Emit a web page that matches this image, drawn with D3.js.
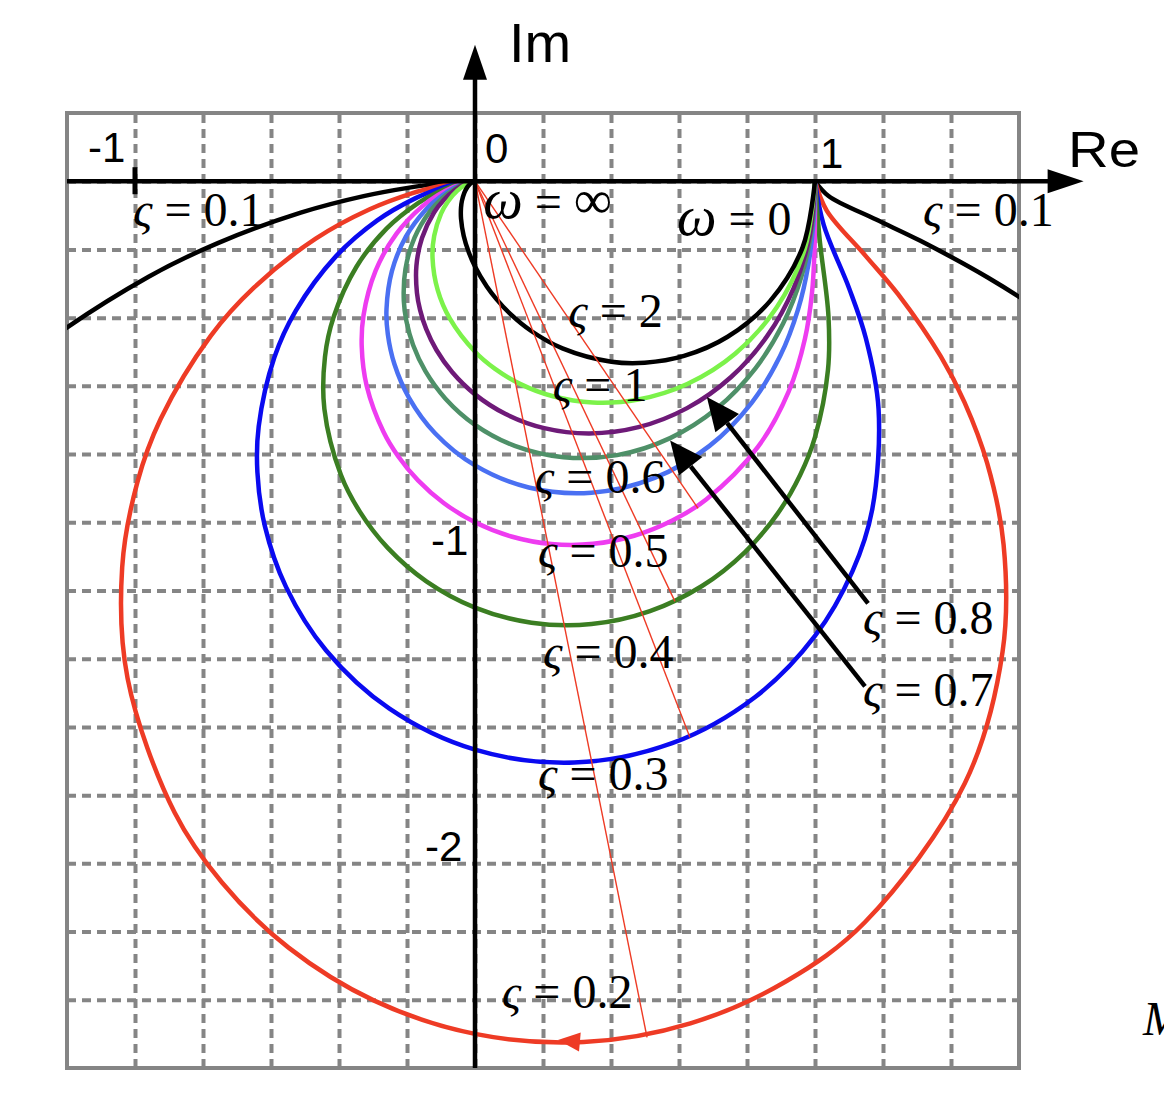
<!DOCTYPE html>
<html><head><meta charset="utf-8">
<script src="https://cdn.jsdelivr.net/npm/d3@7"></script>
<style>body{margin:0;background:#fff} svg{display:block}</style>
</head><body>
<svg id="chart" width="1164" height="1110"></svg>
<script>
// ---------- data: Nyquist curves [Re, Im] for each damping ratio ----------
const zeta01 = [[1,0],[1.0399,-0.0433],[1.1798,-0.1124],[1.3100,-0.1747],[1.5094,-0.2830],[1.6481,-0.3710],[1.8234,-0.5005],[2.3196,-1.0309],[2.774,-2.628],[2.138,-4.167],[0,-5],[-1.877,-3.846],[-2.270,-2.378],[-2.055,-1.466],[-1.7516,-0.9554],[-1.4845,-0.6598],[-1.2691,-0.4782],[-0.96,-0.28],[-0.7564,-0.1815],[-0.5125,-0.0922],[-0.3275,-0.0437],[-0.1888,-0.0180],[-0.1243,-0.0093],[-0.0665,-0.0035],[-0.0285,-0.0010],[0,0]];
const zeta02 = [[1,0],[1.0345,-0.0862],[1.1488,-0.2188],[1.2448,-0.3320],[1.3699,-0.5137],[1.4398,-0.6482],[1.5066,-0.8272],[1.5547,-1.0661],[1.5517,-1.3793],[1.4407,-1.7652],[1.1467,-2.1726],[0.9153,-2.3456],[0.6335,-2.4690],[0.3195,-2.5237],[0,-2.5],[-0.2966,-2.4024],[-0.5484,-2.2471],[-0.7442,-2.0563],[-0.8835,-1.8511],[-1.0218,-1.4575],[-1.0377,-1.1321],[-0.9931,-0.8828],[-0.9243,-0.6966],[-0.7772,-0.4534],[-0.6502,-0.3121],[-0.4685,-0.1685],[-0.3112,-0.0830],[-0.1838,-0.0350],[-0.1222,-0.0183],[-0.0659,-0.0070],[-0.0284,-0.0020],[0,0]];
const zeta03 = [[1,0],[1.0256,-0.1282],[1.1006,-0.3145],[1.1494,-0.4598],[1.1869,-0.6677],[1.1684,-0.9622],[1.1107,-1.1424],[1.0,-1.3333],[0.8232,-1.5129],[0.5798,-1.6478],[0.2916,-1.7045],[0,-1.6667],[-0.2516,-1.5464],[-0.4378,-1.3759],[-0.5559,-1.1894],[-0.6180,-1.0112],[-0.6400,-0.8533],[-0.6362,-0.7192],[-0.5900,-0.5162],[-0.5269,-0.3793],[-0.4098,-0.2211],[-0.2874,-0.1149],[-0.1761,-0.0503],[-0.1190,-0.0268],[-0.0650,-0.0104],[-0.0283,-0.0029],[0,0]];
const zeta04 = [[1,0],[1.0135,-0.1689],[1.0396,-0.3960],[1.0381,-0.5536],[1.0,-0.75],[0.9563,-0.8611],[0.8890,-0.9761],[0.7934,-1.0881],[0.6677,-1.1869],[0.5145,-1.2606],[0.3427,-1.2985],[0.1661,-1.2945],[0,-1.25],[-0.1431,-1.1730],[-0.2566,-1.0751],[-0.3393,-0.9680],[-0.3945,-0.8608],[-0.4430,-0.6677],[-0.4412,-0.5147],[-0.4163,-0.3997],[-0.3486,-0.2508],[-0.2595,-0.1384],[-0.1663,-0.0634],[-0.1147,-0.0344],[-0.0638,-0.0136],[-0.0280,-0.0038],[0,0]];
const zeta05 = [[1,0],[0.9983,-0.2080],[0.9912,-0.3268],[0.9704,-0.4621],[0.9231,-0.6154],[0.8316,-0.7796],[0.6799,-0.9332],[0.5803,-0.9948],[0.4678,-1.0395],[0.3471,-1.0632],[0.2246,-1.0637],[0.1069,-1.0417],[0,-1],[-0.0921,-0.9434],[-0.1675,-0.8771],[-0.2261,-0.8062],[-0.2693,-0.7346],[-0.3185,-0.6002],[-0.3331,-0.4858],[-0.3279,-0.3934],[-0.2925,-0.2631],[-0.2308,-0.1538],[-0.1553,-0.0739],[-0.1096,-0.0411],[-0.0622,-0.0166],[-0.0278,-0.0048],[0,0]];
const zeta06 = [[1,0],[0.9955,-0.1207],[0.9804,-0.2451],[0.9502,-0.3759],[0.8974,-0.5128],[0.8130,-0.6504],[0.6897,-0.7759],[0.5281,-0.8698],[0.3425,-0.9132],[0.1580,-0.8981],[0,-0.8333],[-0.1175,-0.7389],[-0.1941,-0.6351],[-0.2371,-0.5361],[-0.2564,-0.4487],[-0.2603,-0.3748],[-0.2444,-0.2638],[-0.2033,-0.1626],[-0.1436,-0.0821],[-0.1040,-0.0468],[-0.0605,-0.0194],[-0.0274,-0.0056],[0,0]];
const zeta07 = [[1,0],[0.9903,-0.1400],[0.96,-0.28],[0.9059,-0.4181],[0.8242,-0.5495],[0.7126,-0.6651],[0.5739,-0.7532],[0.4179,-0.8030],[0.2601,-0.8092],[0.1170,-0.7760],[0,-0.7143],[-0.0869,-0.6375],[-0.1459,-0.5570],[-0.1821,-0.4804],[-0.2015,-0.4115],[-0.2093,-0.3516],[-0.2046,-0.2577],[-0.1781,-0.1663],[-0.1319,-0.0879],[-0.0980,-0.0514],[-0.0585,-0.0218],[-0.0270,-0.0065],[0,0]];
const zeta08 = [[1,0],[0.9844,-0.1591],[0.9375,-0.3125],[0.8597,-0.4535],[0.7532,-0.5739],[0.6237,-0.6653],[0.4808,-0.7212],[0.3367,-0.7395],[0.2036,-0.7240],[0.0901,-0.6826],[0,-0.625],[-0.0668,-0.5602],[-0.1134,-0.4948],[-0.1437,-0.4331],[-0.1616,-0.3772],[-0.1707,-0.3278],[-0.1723,-0.2479],[-0.1559,-0.1663],[-0.1205,-0.0918],[-0.0919,-0.0551],[-0.0564,-0.0241],[-0.0266,-0.0073],[0,0]];
const zeta1 = [[1,0],[0.9705,-0.1961],[0.8876,-0.3698],[0.7659,-0.5050],[0.6243,-0.5945],[0.48,-0.64],[0.3460,-0.6488],[0.2297,-0.6306],[0.1338,-0.5949],[0.0580,-0.5494],[0,-0.5],[-0.0739,-0.4031],[-0.1096,-0.3196],[-0.1249,-0.2247],[-0.12,-0.16],[-0.0999,-0.0951],[-0.08,-0.06],[-0.0519,-0.0277],[-0.0256,-0.0088],[0,0]];
const zeta2 = [[1,0],[0.9638,-0.1932],[0.8683,-0.3508],[0.7431,-0.4561],[0.6148,-0.5123],[0.4990,-0.5322],[0.4012,-0.5291],[0.2572,-0.4900],[0.1644,-0.4384],[0.1037,-0.3890],[0.0630,-0.3457],[0.0347,-0.3086],[0,-0.25],[-0.0189,-0.2066],[-0.0333,-0.1597],[-0.0411,-0.1096],[-0.0412,-0.0784],[-0.0385,-0.0577],[-0.0312,-0.0333],[-0.0246,-0.0205],[-0.0194,-0.0133],[-0.0126,-0.0064],[-0.0063,-0.0021],[0,0]];

// lines from origin to the resonance points (zeta = 0.2, 0.3, 0.4, 0.5)
const peakPoints = [[0.506,-2.51],[0.632,-1.630],[0.588,-1.232],[0.656,-0.959]];

// grid / ticks
const gridRe = [-1,-0.8,-0.6,-0.4,-0.2,0,0.2,0.4,0.6,0.8,1,1.2,1.4];
const gridIm = [0,-0.2,-0.4,-0.6,-0.8,-1,-1.2,-1.4,-1.6,-1.8,-2,-2.2,-2.4];
const reTickValues = [-1, 0, 1];
const reTickLabels = ["-1", "0", "1"];
const imTickValues = [-1, -2];
const imTickLabels = ["-1", "-2"];

// annotations
const zetaLabelText = ["0.1","0.1","2","1","0.6","0.5","0.4","0.3","0.2","0.8","0.7"];
const zetaLabelRe   = [-1.006, 1.318, 0.274, 0.229, 0.176, 0.185, 0.200, 0.185, 0.079, 1.141, 1.141];
const zetaLabelIm   = [-0.131,-0.131,-0.427,-0.644,-0.914,-1.131,-1.427,-1.785,-2.424,-1.328,-1.539];
const omegaLabelText = ["∞", "0"];
const omegaLabelRe = [0.024, 0.594];
const omegaLabelIm = [-0.108, -0.158];
const pointerFrom = [[1.156,-1.238],[1.147,-1.481]];
const pointerTo   = [[0.682,-0.633],[0.574,-0.760]];
const flowArrowAt = [0.244,-2.518];

// ---------- drawing ----------
const svg = d3.select('#chart');
const x = d3.scaleLinear().domain([-1.2, 1.6]).range([67, 1019]);
const y = d3.scaleLinear().domain([0.2, -2.6]).range([113, 1068]);
const W = x(1.6) - x(-1.2), H = y(-2.6) - y(0.2);

const curves = [
  {d: zeta01, c: '#000000'},
  {d: zeta02, c: '#ee3b25'},
  {d: zeta03, c: '#0a0af0'},
  {d: zeta04, c: '#3b7e22'},
  {d: zeta05, c: '#ee3cf0'},
  {d: zeta06, c: '#4a70f2'},
  {d: zeta07, c: '#4e9068'},
  {d: zeta08, c: '#6e1a78'},
  {d: zeta1,  c: '#7cf24a'},
  {d: zeta2,  c: '#000000'}
];

svg.append('defs').append('clipPath').attr('id','plotclip')
  .append('rect').attr('x', x(-1.2)).attr('y', y(0.2)).attr('width', W).attr('height', H);

// grid via axis generators
const gx = svg.append('g').attr('transform', `translate(0,${y(-2.6)})`)
  .call(d3.axisBottom(x).tickValues(gridRe).tickSize(-H).tickFormat(''));
const gy = svg.append('g').attr('transform', `translate(${x(-1.2)},0)`)
  .call(d3.axisLeft(y).tickValues(gridIm).tickSize(-W).tickFormat(''));
[gx, gy].forEach(g => {
  g.select('.domain').remove();
  g.selectAll('.tick line').attr('stroke', '#858585').attr('stroke-width', 4).attr('stroke-dasharray', '9,6');
});

// frame
svg.append('rect').attr('x', x(-1.2)).attr('y', y(0.2)).attr('width', W).attr('height', H)
  .attr('fill', 'none').attr('stroke', '#858585').attr('stroke-width', 4);

// curves
const line = d3.line().x(d => x(d[0])).y(d => y(d[1])).curve(d3.curveCatmullRom.alpha(0.5));
svg.append('g').attr('clip-path', 'url(#plotclip)')
  .selectAll('path').data(curves).join('path')
  .attr('d', d => line(d.d)).attr('fill', 'none')
  .attr('stroke', d => d.c).attr('stroke-width', 4.5).attr('stroke-linejoin', 'round');

// lines from origin to resonance points
svg.append('g').selectAll('line').data(peakPoints).join('line')
  .attr('x1', x(0)).attr('y1', y(0)).attr('x2', d => x(d[0])).attr('y2', d => y(d[1]))
  .attr('stroke', '#ee3b25').attr('stroke-width', 1.4);

// arrow helper
function arrowHead(g, x1, y1, x2, y2, len, halfW, color) {
  const a = Math.atan2(y2 - y1, x2 - x1);
  const bx = x2 - len * Math.cos(a), by = y2 - len * Math.sin(a);
  const px = -Math.sin(a) * halfW, py = Math.cos(a) * halfW;
  g.append('path').attr('d', `M${x2},${y2}L${bx + px},${by + py}L${bx - px},${by - py}Z`).attr('fill', color);
  return [bx, by];
}

// axes
const ax = svg.append('g');
const reEnd = 1.79, imEnd = 0.40;
const hb = arrowHead(ax, x(-1.2), y(0), x(reEnd), y(0), 36, 12, '#000');
ax.append('line').attr('x1', x(-1.2)).attr('x2', hb[0] + 1).attr('y1', y(0)).attr('y2', y(0))
  .attr('stroke', '#000').attr('stroke-width', 4.5);
const vb = arrowHead(ax, x(0), y(-2.6), x(0), y(imEnd), 35, 12, '#000');
ax.append('line').attr('x1', x(0)).attr('x2', x(0)).attr('y1', y(-2.6)).attr('y2', vb[1] - 1)
  .attr('stroke', '#000').attr('stroke-width', 4.5);
// tick mark at Re = -1
ax.append('line').attr('x1', x(-1)).attr('x2', x(-1)).attr('y1', y(0) - 14).attr('y2', y(0) + 13)
  .attr('stroke', '#000').attr('stroke-width', 5);

// axis labels
const sans = '"Liberation Sans", Arial, Helvetica, sans-serif';
const serif = '"Liberation Serif", "Times New Roman", Times, serif';
ax.append('text').attr('x', 509).attr('y', 62).attr('font-family', sans).attr('font-size', 56).text('Im');
ax.append('text').attr('x', 1068).attr('y', 167).attr('font-family', sans).attr('font-size', 50)
  .attr('textLength', 72).attr('lengthAdjust', 'spacingAndGlyphs').text('Re');

const reOff = [[-47, -19], [10, -18], [5, -13]];
ax.selectAll('text.ret').data(reTickValues).join('text').attr('class', 'ret')
  .attr('x', (d, i) => x(d) + reOff[i][0]).attr('y', (d, i) => y(0) + reOff[i][1])
  .attr('font-family', sans).attr('font-size', 42).text((d, i) => reTickLabels[i]);
const imOff = [[-44, 33], [-50, -2]];
ax.selectAll('text.imt').data(imTickValues).join('text').attr('class', 'imt')
  .attr('x', (d, i) => x(0) + imOff[i][0]).attr('y', (d, i) => y(d) + imOff[i][1])
  .attr('font-family', sans).attr('font-size', 42).text((d, i) => imTickLabels[i]);

// pointer arrows
const pa = svg.append('g');
pointerFrom.forEach((f, i) => {
  const t = pointerTo[i];
  const b = arrowHead(pa, x(f[0]), y(f[1]), x(t[0]), y(t[1]), 33, 15, '#000');
  pa.append('line').attr('x1', x(f[0])).attr('y1', y(f[1])).attr('x2', b[0]).attr('y2', b[1])
    .attr('stroke', '#000').attr('stroke-width', 4.5);
});

// flow direction arrow on zeta=0.2 curve (direction toward increasing omega)
arrowHead(svg.append('g'), x(flowArrowAt[0]) + 22, y(flowArrowAt[1]) + 2, x(flowArrowAt[0]), y(flowArrowAt[1]), 22, 9.5, '#ee3b25');

// labels
const lab = svg.append('g').attr('font-family', serif).attr('font-size', 48).attr('fill', '#000');
zetaLabelText.forEach((t, i) => {
  const tx = lab.append('text').attr('x', x(zetaLabelRe[i])).attr('y', y(zetaLabelIm[i]));
  tx.append('tspan').attr('font-style', 'italic').text('ς');
  tx.append('tspan').text(' = ' + t);
});
omegaLabelText.forEach((t, i) => {
  const tx = lab.append('text').attr('x', x(omegaLabelRe[i])).attr('y', y(omegaLabelIm[i]));
  tx.append('tspan').attr('font-style', 'italic').attr('font-size', 56).text('ω');
  tx.append('tspan').text(' = ');
  tx.append('tspan').attr('font-size', t === '∞' ? 54 : 48).text(t);
});
lab.append('text').attr('x', 1143).attr('y', 1035).attr('font-style', 'italic').text('M');
</script>
</body></html>
